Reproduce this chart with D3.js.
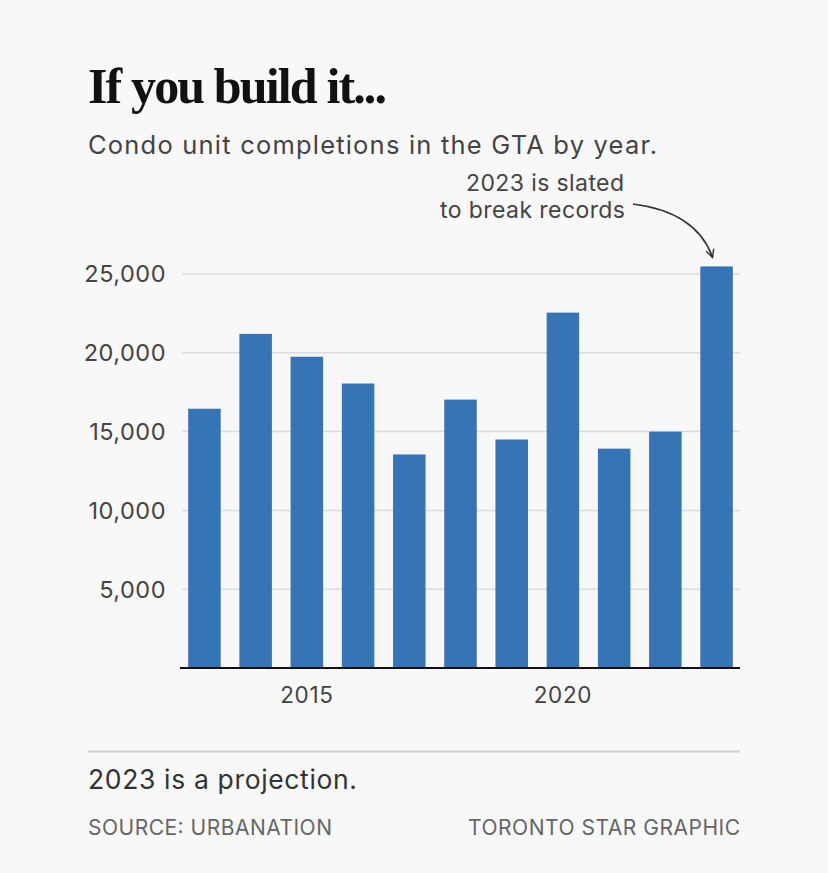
<!DOCTYPE html>
<html>
<head>
<meta charset="utf-8">
<script src="https://cdn.jsdelivr.net/npm/d3@7"></script>
<style>
  html, body { margin: 0; padding: 0; background: #f8f8f8; }
  svg { display: block; }
  text { font-family: Inter, "Noto Sans", sans-serif; }
</style>
</head>
<body>
<svg width="828" height="873"></svg>
<script>
// data
const years = [2013, 2014, 2015, 2016, 2017, 2018, 2019, 2020, 2021, 2022, 2023];
const completions = [16450, 21200, 19750, 18050, 13550, 17030, 14500, 22550, 13920, 15000, 25480];
const yTicks = [5000, 10000, 15000, 20000, 25000];
const xTicks = [2015, 2020];

const svg = d3.select('svg');
const W = 828, H = 873;

svg.append('rect').attr('width', W).attr('height', H).attr('fill', '#f8f8f8');

// the reference font runs wider than Inter, so stretch spacing to the measured width
function label(x, y, str, size, fill, width, anchor) {
    const t = svg.append('text')
        .attr('x', x).attr('y', y)
        .attr('text-anchor', anchor || 'start')
        .style('font-size', size + 'px')
        .attr('fill', fill)
        .text(str);
    if (width) t.attr('textLength', width).attr('lengthAdjust', 'spacing');
    return t;
}

// titles
svg.append('text')
    .attr('x', 88).attr('y', 103)
    .style('font-family', '"Liberation Serif", "DejaVu Serif", serif')
    .style('font-weight', 700)
    .style('font-size', '50px')
    .attr('textLength', 299)
    .attr('lengthAdjust', 'spacing')
    .attr('fill', '#111')
    .text('If you build it...');

label(88, 154, 'Condo unit completions in the GTA by year.', 25.5, '#444', 569);

// scales
const x = d3.scaleBand()
    .domain(years)
    .range([181, 740])
    .paddingInner(0.365)
    .paddingOuter(0.14);

const y = d3.scaleLinear()
    .domain([0, 25000])
    .range([668, 274]);

// gridlines
svg.append('g')
    .selectAll('line')
    .data(yTicks)
    .enter()
    .append('line')
    .attr('x1', 182).attr('x2', 740)
    .attr('y1', d => y(d)).attr('y2', d => y(d))
    .attr('stroke', '#dcdcdc')
    .attr('stroke-width', 1.5);

// y labels
svg.append('g')
    .selectAll('text')
    .data(yTicks)
    .enter()
    .append('text')
    .attr('x', 166)
    .attr('y', d => y(d))
    .attr('dy', '0.36em')
    .attr('text-anchor', 'end')
    .style('font-size', '23.5px')
    .style('letter-spacing', '0.5px')
    .attr('fill', '#444')
    .text(d => d3.format(',')(d));

// bars
svg.append('g')
    .selectAll('rect')
    .data(years)
    .enter()
    .append('rect')
    .attr('x', d => x(d))
    .attr('width', x.bandwidth())
    .attr('y', (d, i) => y(completions[i]))
    .attr('height', (d, i) => y(0) - y(completions[i]))
    .attr('fill', '#3574b5');

// baseline
svg.append('line')
    .attr('x1', 180).attr('x2', 740)
    .attr('y1', y(0)).attr('y2', y(0))
    .attr('stroke', '#111')
    .attr('stroke-width', 2);

// x labels
svg.append('g')
    .selectAll('text')
    .data(xTicks)
    .enter()
    .append('text')
    .attr('x', d => x(d) + x.bandwidth() / 2)
    .attr('y', 703)
    .attr('text-anchor', 'middle')
    .style('font-size', '22.5px')
    .style('letter-spacing', '0.6px')
    .attr('fill', '#444')
    .text(d => d);

// annotation
label(466, 191, '2023 is slated', 23, '#444', 158);
label(440, 218, 'to break records', 23, '#444', 185);

svg.append('defs').append('marker')
    .attr('id', 'arrow')
    .attr('viewBox', '0 0 10 10')
    .attr('refX', 9).attr('refY', 5)
    .attr('markerWidth', 10).attr('markerHeight', 10)
    .attr('markerUnits', 'userSpaceOnUse')
    .attr('orient', 'auto')
    .append('path')
    .attr('d', 'M1,1 L9,5 L1,9')
    .attr('fill', 'none')
    .attr('stroke', '#333')
    .attr('stroke-width', 1.4);

const lastX = x(2023) + x.bandwidth() / 2;
svg.append('path')
    .attr('d', `M633,204 Q${lastX - 20},212 ${lastX - 4},${y(completions[10]) - 9}`)
    .attr('fill', 'none')
    .attr('stroke', '#333')
    .attr('stroke-width', 1.7)
    .attr('marker-end', 'url(#arrow)');

// footer
svg.append('line')
    .attr('x1', 88).attr('x2', 740)
    .attr('y1', 751.5).attr('y2', 751.5)
    .attr('stroke', '#d0d0d0')
    .attr('stroke-width', 2);

label(88, 789, '2023 is a projection.', 26.5, '#333', 269);
label(88, 835, 'SOURCE: URBANATION', 21, '#666', 244);
label(468, 835, 'TORONTO STAR GRAPHIC', 21, '#666', 272);
</script>
</body>
</html>
